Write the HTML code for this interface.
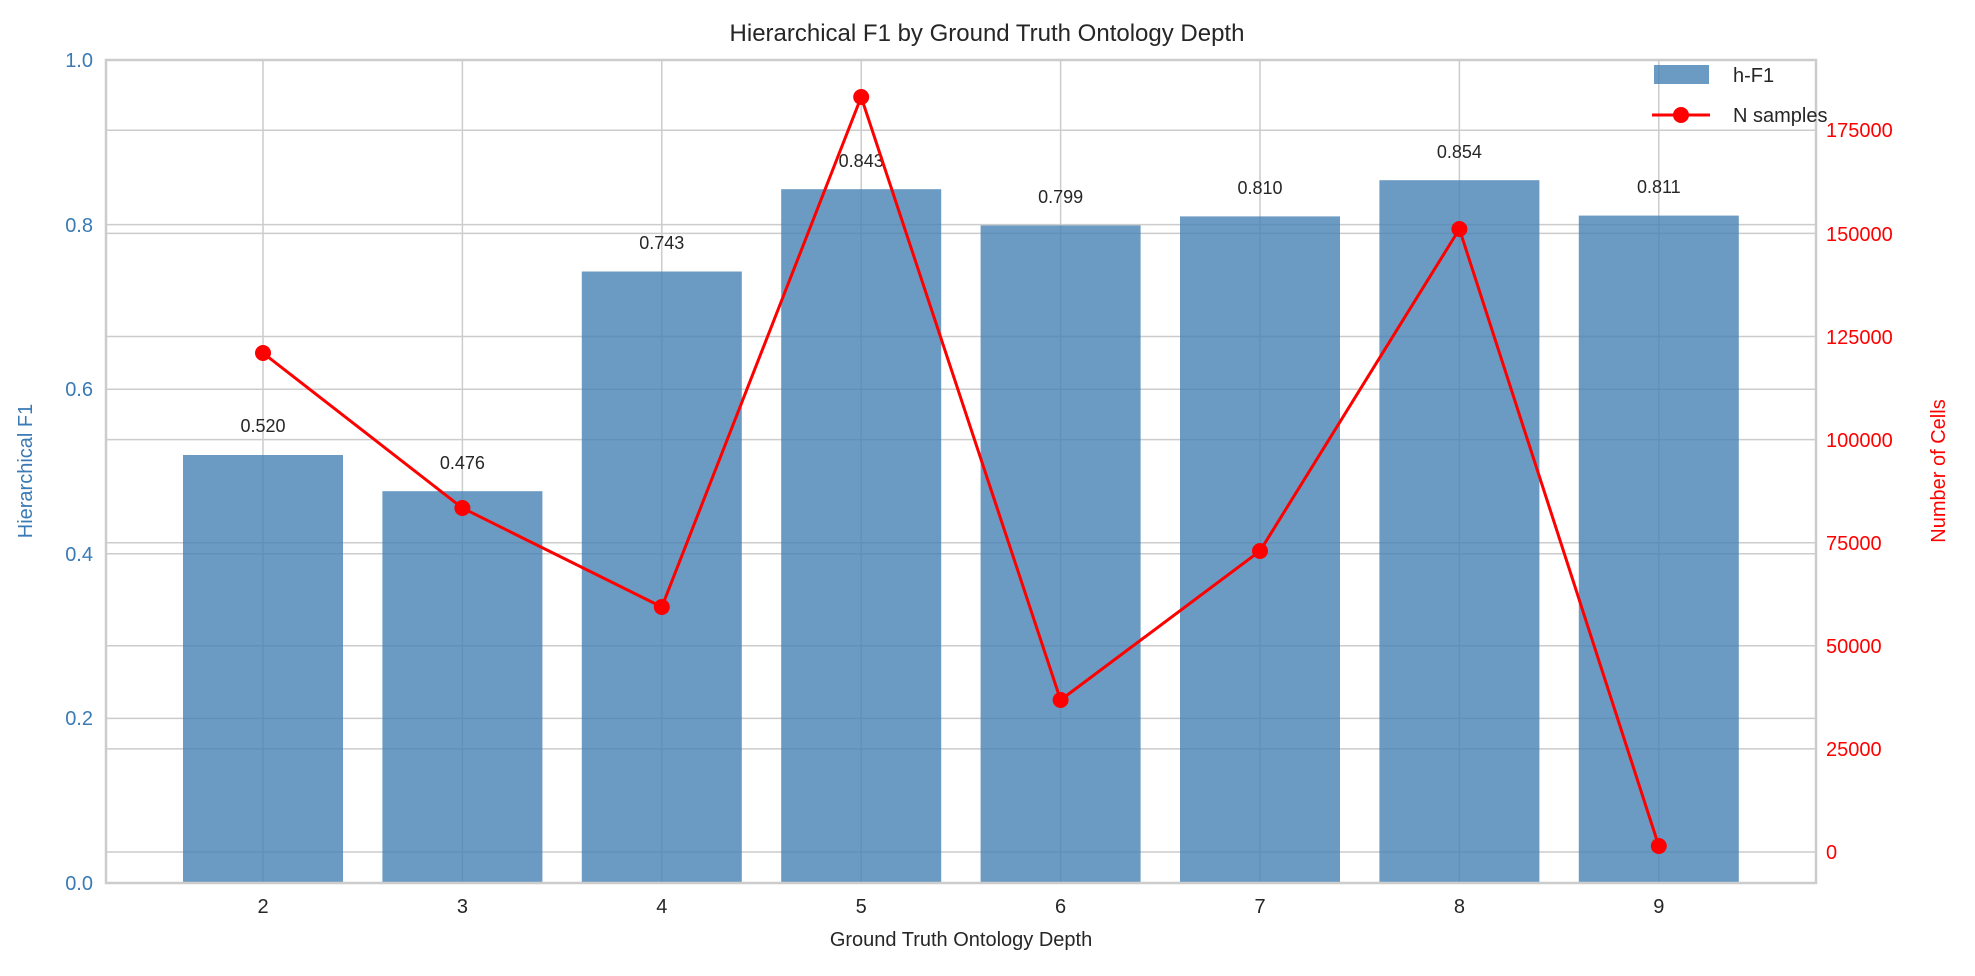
<!DOCTYPE html>
<html><head><meta charset="utf-8"><style>body{margin:0;background:#fff}svg{display:block;font-family:"Liberation Sans",sans-serif}</style></head><body>
<svg width="1975" height="976" viewBox="0 0 1975 976" xmlns="http://www.w3.org/2000/svg">
<rect width="1975" height="976" fill="#fff"/>
<g stroke="#cccccc" stroke-width="1.5">
<!-- left grid -->
<line x1="106" x2="1816" y1="718.4" y2="718.4"/><line x1="106" x2="1816" y1="553.8" y2="553.8"/><line x1="106" x2="1816" y1="389.2" y2="389.2"/><line x1="106" x2="1816" y1="224.6" y2="224.6"/>
<!-- right grid -->
<line x1="106" x2="1816" y1="852" y2="852"/><line x1="106" x2="1816" y1="748.9" y2="748.9"/><line x1="106" x2="1816" y1="645.8" y2="645.8"/><line x1="106" x2="1816" y1="542.7" y2="542.7"/><line x1="106" x2="1816" y1="439.6" y2="439.6"/><line x1="106" x2="1816" y1="336.5" y2="336.5"/><line x1="106" x2="1816" y1="233.4" y2="233.4"/><line x1="106" x2="1816" y1="130.3" y2="130.3"/>
<line y1="60" y2="883" x1="263" x2="263"/><line y1="60" y2="883" x1="462.4" x2="462.4"/><line y1="60" y2="883" x1="661.8" x2="661.8"/><line y1="60" y2="883" x1="861.2" x2="861.2"/><line y1="60" y2="883" x1="1060.6" x2="1060.6"/><line y1="60" y2="883" x1="1260" x2="1260"/><line y1="60" y2="883" x1="1459.4" x2="1459.4"/><line y1="60" y2="883" x1="1658.8" x2="1658.8"/>
</g>
<g fill="#4682b4" fill-opacity="0.8">
<rect x="183" width="160" y="455" height="428"/>
<rect x="382.4" width="160" y="491.2" height="391.8"/>
<rect x="581.8" width="160" y="271.5" height="611.5"/>
<rect x="781.2" width="160" y="189.2" height="693.8"/>
<rect x="980.6" width="160" y="225.4" height="657.6"/>
<rect x="1180" width="160" y="216.4" height="666.6"/>
<rect x="1379.4" width="160" y="180.2" height="702.8"/>
<rect x="1578.8" width="160" y="215.6" height="667.4"/>
</g>
<g font-size="18" fill="#262626" text-anchor="middle">
<text x="263" y="432">0.520</text><text x="462.4" y="469">0.476</text><text x="661.8" y="249">0.743</text><text x="861.2" y="167">0.843</text><text x="1060.6" y="203">0.799</text><text x="1260" y="194">0.810</text><text x="1459.4" y="158">0.854</text><text x="1658.8" y="193">0.811</text>
</g>
<rect x="106" y="60" width="1710" height="823" fill="none" stroke="#cccccc" stroke-width="2.5"/>
<polyline fill="none" stroke="#ff0000" stroke-width="3" points="263,353 462.4,508 661.8,607 861.2,97 1060.6,700 1260,551 1459.4,229 1658.8,846"/>
<g fill="#ff0000"><circle cx="263" cy="353" r="8"/><circle cx="462.4" cy="508" r="8"/><circle cx="661.8" cy="607" r="8"/><circle cx="861.2" cy="97" r="8"/><circle cx="1060.6" cy="700" r="8"/><circle cx="1260" cy="551" r="8"/><circle cx="1459.4" cy="229" r="8"/><circle cx="1658.8" cy="846" r="8"/></g>
<g font-size="20" fill="#3a7ab5" text-anchor="end">
<text x="93" y="890">0.0</text><text x="93" y="725">0.2</text><text x="93" y="561">0.4</text><text x="93" y="396">0.6</text><text x="93" y="232">0.8</text><text x="93" y="67">1.0</text>
</g>
<g font-size="20" fill="#ff0000" text-anchor="start">
<text x="1826" y="859">0</text><text x="1826" y="756">25000</text><text x="1826" y="653">50000</text><text x="1826" y="550">75000</text><text x="1826" y="447">100000</text><text x="1826" y="344">125000</text><text x="1826" y="241">150000</text><text x="1826" y="137">175000</text>
</g>
<g font-size="20" fill="#262626" text-anchor="middle">
<text x="263" y="913">2</text><text x="462.4" y="913">3</text><text x="661.8" y="913">4</text><text x="861.2" y="913">5</text><text x="1060.6" y="913">6</text><text x="1260" y="913">7</text><text x="1459.4" y="913">8</text><text x="1658.8" y="913">9</text>
</g>
<text x="961" y="946" font-size="20" fill="#262626" text-anchor="middle">Ground Truth Ontology Depth</text>
<text x="987" y="41" font-size="24" fill="#262626" text-anchor="middle">Hierarchical F1 by Ground Truth Ontology Depth</text>
<text transform="translate(32,471) rotate(-90)" font-size="20" fill="#3a7ab5" text-anchor="middle">Hierarchical F1</text>
<text transform="translate(1945,471) rotate(-90)" font-size="20" fill="#ff0000" text-anchor="middle">Number of Cells</text>
<rect x="1654" y="65" width="55" height="19" fill="#4682b4" fill-opacity="0.8"/>
<text x="1733" y="82" font-size="20" fill="#262626">h-F1</text>
<line x1="1652" x2="1710" y1="115" y2="115" stroke="#ff0000" stroke-width="3"/>
<circle cx="1681" cy="115" r="8" fill="#ff0000"/>
<text x="1733" y="122" font-size="20" fill="#262626">N samples</text>
</svg>
</body></html>
